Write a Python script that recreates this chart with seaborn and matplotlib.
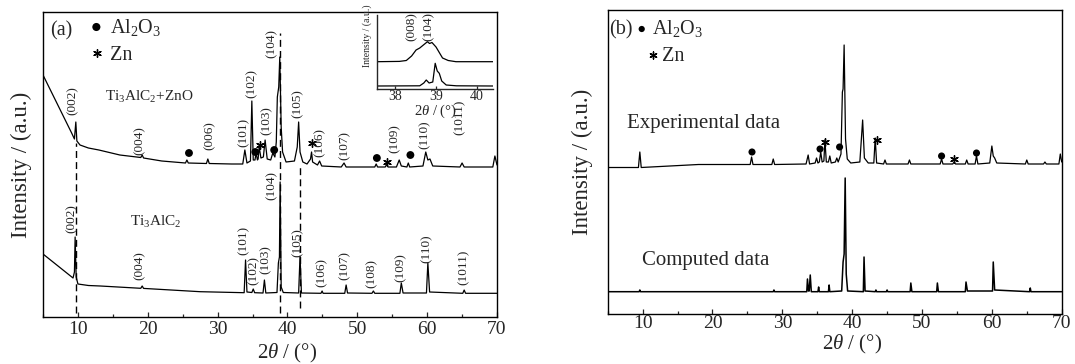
"""XRD patterns of Ti3AlC2 and Ti3AlC2+ZnO, (a) indexed and (b) experimental vs computed."""
import matplotlib
matplotlib.use('Agg')
from matplotlib import pyplot as plt
from matplotlib import ticker
import seaborn as sns

sns.set_style('ticks')
plt.rcParams['font.family'] = ['Liberation Serif', 'DejaVu Serif']
plt.rcParams['mathtext.fontset'] = 'custom'
plt.rcParams['mathtext.rm'] = 'Liberation Serif'
plt.rcParams['mathtext.it'] = 'Liberation Serif:italic'
plt.rcParams['mathtext.bf'] = 'Liberation Serif:bold'

"""
Data read off the figure (2theta in degrees, intensity in arbitrary offset units)
"""
# (a) Ti3AlC2+ZnO trace
zno_2t = [5.0, 9.1, 9.5, 9.7, 9.85, 10.3, 11.5, 13.0, 16.0, 19.0, 19.2, 19.4, 22.0,
          25.4, 25.6, 25.8, 28.4, 28.6, 28.8, 32.0, 33.6, 33.9, 34.2, 34.7, 34.9,
          35.1, 35.35, 35.5, 35.7, 35.8, 35.95, 36.2, 36.55, 36.8, 37.1, 37.6, 37.9,
          38.2, 38.4, 38.55, 38.75, 38.9, 39.1, 39.3, 39.8, 41.0, 41.4, 41.6, 41.8,
          42.2, 42.8, 43.3, 43.45, 43.6, 44.3, 44.6, 44.9, 47.7, 48.1, 48.4, 52.5,
          52.7, 52.9, 54.0, 54.2, 54.4, 55.6, 56.0, 56.3, 57.1, 57.3, 57.5, 59.4,
          59.8, 60.1, 60.4, 60.8, 64.7, 65.0, 65.3, 69.4, 69.7, 70.0]
zno_int = [242, 184, 178, 195, 176, 172, 169, 167, 162, 159.5, 162, 159, 156,
           154, 157, 154, 153.5, 158, 153.5, 153, 153, 167, 154, 156, 216,
           157, 157, 164, 157, 158, 170, 159, 160, 177, 158, 157, 164,
           160, 175, 220, 230, 260, 190, 165, 155, 156, 170, 195, 165,
           155, 153, 158, 165, 155, 152, 156, 151, 150, 154, 150, 150,
           153, 150, 150, 152.5, 150, 150, 157, 151, 150, 154, 150, 151,
           165, 157, 158, 151, 150, 154, 150, 150, 161, 152]

# (a) Ti3AlC2 trace
tac_2t = [5.0, 9.3, 9.5, 9.6, 9.75, 10.0, 11.5, 13.2, 19.0, 19.2, 19.4, 27.5, 33.8,
          34.0, 34.2, 34.9, 35.1, 35.3, 36.5, 36.7, 36.9, 38.5, 38.7, 38.85, 38.95,
          39.1, 39.4, 41.6, 41.8, 42.0, 44.8, 44.96, 45.1, 48.2, 48.4, 48.6, 52.1,
          52.3, 52.5, 56.1, 56.3, 56.55, 59.9, 60.1, 60.35, 65.1, 65.3, 65.5, 70.0]
tac_int = [63, 39, 45, 80, 40, 33, 31.5, 31, 28.7, 31, 28.6, 25.3, 24.3,
           57, 25, 24.5, 28, 24.3, 24, 37, 24, 24.5, 54, 60, 135,
           30, 24.5, 24, 61, 24, 23.7, 26, 23.7, 23.7, 32, 24, 23.7,
           26, 23.7, 23.7, 34, 24, 24, 54, 25, 23.7, 27, 23.7, 23.7]

# (a) inset, 37.5-40.5 degrees
ins_top_2t = [37.55, 38.1, 38.27, 38.4, 38.51, 38.6, 38.72, 38.79, 38.84, 38.9,
              39.0, 39.16, 39.3, 39.49, 40.4]
ins_top_int = [27.3, 27.6, 28.5, 33, 39, 41, 45, 47.3, 45.5, 46.5,
               42, 31, 28.5, 27.3, 27.3]
ins_bot_2t = [37.55, 38.6, 38.7, 38.76, 38.83, 38.92, 38.98, 39.03, 39.08, 39.14,
              39.25, 39.5, 40.4]
ins_bot_int = [3, 3.2, 6, 9, 6, 7, 25.7, 18, 15.7, 8, 4, 3.2, 3]

# (b) experimental trace
exp_2t = [5.0, 9.4, 9.6, 9.8, 18.0, 25.4, 25.6, 25.8, 28.5, 28.7, 28.9, 33.4,
          33.7, 33.9, 34.7, 34.9, 35.1, 35.3, 35.5, 35.7, 35.95, 36.1, 36.3,
          36.6, 36.8, 37.0, 37.6, 37.8, 38.0, 38.4, 38.6, 38.7, 38.85, 39.05,
          39.3, 39.8, 41.1, 41.5, 41.75, 42.3, 43.1, 43.3, 43.5, 44.5, 44.7,
          44.9, 48.0, 48.2, 48.4, 52.6, 52.8, 53.0, 54.4, 54.6, 54.8, 56.2,
          56.4, 56.6, 57.6, 57.8, 58.0, 59.7, 60.0, 60.2, 60.4, 60.7, 64.8,
          65.0, 65.2, 67.4, 67.6, 67.8, 69.6, 69.8, 70.0]
exp_int = [146.5, 146.5, 162, 146.5, 149.5, 149.5, 157, 149.5, 149.5, 155, 149.5, 150,
           159, 150, 151, 156, 151, 152, 162, 152, 153, 174, 152,
           152, 158, 151, 152, 156, 152, 160, 222, 225, 269, 175,
           155, 151, 152, 194, 156, 151, 151, 176, 151, 150, 154,
           150, 150, 154, 150, 150, 155, 150, 150, 152, 150, 150,
           154, 150, 150, 158, 150, 151, 168, 158, 156, 151, 150,
           154, 150, 150, 152, 150, 150, 160, 152]

# (b) computed trace
cal_2t = [5.0, 9.5, 9.6, 9.7, 28.7, 28.8, 28.9, 33.5, 33.6, 33.75, 33.85, 34.0,
          34.15, 35.1, 35.2, 35.3, 36.6, 36.7, 36.8, 38.5, 38.7, 38.85, 39.0,
          39.15, 39.35, 41.6, 41.7, 41.85, 43.3, 43.4, 43.5, 44.9, 45.0, 45.1,
          48.3, 48.4, 48.55, 52.1, 52.2, 52.35, 56.2, 56.3, 56.5, 60.1, 60.2,
          60.4, 65.4, 65.5, 65.6, 70.0]
cal_int = [22.3, 22.3, 24, 22.3, 22.3, 24, 22.3, 22.3, 35, 23, 23, 39,
           22.3, 22.3, 27, 22.3, 22.3, 29, 22.3, 23, 52, 60, 136,
           40, 23, 22.3, 57, 23, 22.3, 24, 22.3, 22.3, 24, 22.3,
           22.3, 31, 22.3, 22.3, 31, 22.3, 22.3, 32, 23, 23, 52,
           24, 22.3, 26, 22.3, 22.3]

# Reflection labels
a_top_hkl = ['(002)', '(004)', '(006)', '(101)', '(102)', '(103)', '(104)',
             '(105)', '(106)', '(107)', '(109)', '(110)', '(1011)']
a_top_x = [9.2, 18.9, 28.8, 33.7, 34.9, 37.0, 37.7, 41.5, 44.6, 48.2, 55.4, 59.6, 64.7]
a_top_y = [202, 162, 167, 170, 219, 182, 259, 199, 160, 157, 164, 168, 182]
a_bot_hkl = ['(002)', '(004)', '(101)', '(102)', '(103)', '(104)', '(105)',
             '(106)', '(107)', '(108)', '(109)', '(110)', '(1011)']
a_bot_x = [9.1, 18.9, 33.7, 35.1, 36.9, 37.7, 41.5, 44.9, 48.2, 52.1, 56.2, 60.0, 65.2]
a_bot_y = [84, 37, 62, 32, 43, 117, 60, 30, 37, 29, 35, 54, 32]
ins_hkl = ['(008)', '(104)']
ins_hkl_x = [38.4, 38.82]

# Phase markers
a_dot_x = [25.9, 35.4, 38.1, 52.8, 57.6]
a_dot_y = [164, 165, 167, 159, 162]
a_star_x = [36.0, 43.5, 54.3]
a_star_y = [172, 174, 155]
b_dot_x = [25.66, 35.4, 38.2, 52.8, 57.8]
b_dot_y = [162, 165, 167, 158, 161]
b_star_x = [36.1, 43.5, 54.6]
b_star_y = [172, 174, 155]

# Dashed guide lines in (a)
guide_x = [9.7, 39.0, 41.8]
guide_top = [174, 284, 150]
guide_bottom = [4, 4, 9]

STAR = (6, 2, 0)


def style_axes(ax, ylim, pad, xlabel_y):
    """Common frame: inward ticks on x only, no y ticks."""
    ax.set_xlim(5, 70)
    ax.set_ylim(*ylim)
    ax.set_yticks([])
    ax.xaxis.set_major_locator(ticker.MultipleLocator(10))
    ax.xaxis.set_minor_locator(ticker.MultipleLocator(5))
    ax.xaxis.set_major_formatter(ticker.FuncFormatter(lambda v, p: '' if v < 10 else f'{v:.0f}'))
    ax.tick_params(axis='x', which='major', direction='in', length=3.5, width=0.9,
                   labelsize=14, pad=pad)
    ax.tick_params(axis='x', which='minor', direction='in', length=2, width=0.9)
    for sp in ax.spines.values():
        sp.set_visible(True)
        sp.set_linewidth(1.0)
        sp.set_color('black')
    ax.set_xlabel(r'2$\theta$ / (°)', fontsize=15)
    ax.xaxis.set_label_coords(35 / 65, xlabel_y)
    ax.set_ylabel('Intensity / (a.u.)', fontsize=16.5)


fig = plt.figure(figsize=(10.75, 3.64), dpi=100)
ax_a = fig.add_axes([43 / 1075, 47 / 364, 454 / 1075, 305 / 364])
ax_b = fig.add_axes([607.7 / 1075, 50 / 364, 454 / 1075, 304 / 364])

# ---- (a)
sns.lineplot(x=zno_2t, y=zno_int, ax=ax_a, color='black', lw=0.9, estimator=None, sort=False)
sns.lineplot(x=tac_2t, y=tac_int, ax=ax_a, color='black', lw=0.9, estimator=None, sort=False)
ax_a.vlines(guide_x, guide_bottom, guide_top, colors='black', linestyles=(0, (5, 3)), lw=1)
sns.scatterplot(x=a_dot_x, y=a_dot_y, ax=ax_a, color='black', s=32, edgecolor='none')
sns.scatterplot(x=a_star_x, y=a_star_y, ax=ax_a, color='black', marker=STAR, s=30, linewidth=1)
for s, x, y in zip(a_top_hkl, a_top_x, a_top_y):
    ax_a.text(x, y, s, rotation=90, ha='center', va='bottom', fontsize=9.5)
for s, x, y in zip(a_bot_hkl, a_bot_x, a_bot_y):
    ax_a.text(x, y, s, rotation=90, ha='center', va='bottom', fontsize=9.5)
ax_a.text(6.07, 286, '(a)', fontsize=14.5, va='center')
ax_a.scatter([12.64], [290], color='black', s=34, edgecolor='none')
ax_a.text(14.64, 290, r'Al$_2$O$_3$', fontsize=14.5, va='center')
ax_a.scatter([12.7], [264], color='black', marker=STAR, s=30, linewidth=1)
ax_a.text(14.64, 262, 'Zn', fontsize=14.5, va='center')
ax_a.text(13.9, 220.5, r'Ti$_3$AlC$_2$+ZnO', fontsize=11, va='center')
ax_a.text(17.5, 95, r'Ti$_3$AlC$_2$', fontsize=11, va='center')
style_axes(ax_a, (0, 305), 3, -0.082)
ax_a.yaxis.set_label_coords(-0.025, 0.5)

# inset
ax_in = fig.add_axes([377 / 1075, 275 / 364, 116 / 1075, 74 / 364])
sns.lineplot(x=ins_top_2t, y=ins_top_int, ax=ax_in, color='black', lw=0.9, estimator=None, sort=False)
sns.lineplot(x=ins_bot_2t, y=ins_bot_int, ax=ax_in, color='black', lw=0.9, estimator=None, sort=False)
for s, x in zip(ins_hkl, ins_hkl_x):
    ax_in.text(x, 48, s, rotation=90, ha='center', va='bottom', fontsize=9.5)
ax_in.set_xlim(37.55, 40.4)
ax_in.set_ylim(0, 74)
ax_in.set_yticks([])
ax_in.set_xticks([38, 39, 40])
ax_in.tick_params(axis='x', direction='in', length=2.5, width=0.9, labelsize=10, pad=1)
ax_in.spines['top'].set_visible(False)
ax_in.spines['right'].set_visible(False)
ax_in.spines['left'].set_linewidth(1.0)
ax_in.spines['bottom'].set_linewidth(1.0)
ax_in.patch.set_alpha(0)
ax_in.set_xlabel(r'2$\theta$ / (°)', fontsize=10.5, labelpad=-0.5)
fig.text(367 / 1075, 1 - 36 / 364, 'Intensity / (a.u.)', rotation=90, fontsize=7,
         ha='center', va='center')

# ---- (b)
sns.lineplot(x=exp_2t, y=exp_int, ax=ax_b, color='black', lw=0.9, estimator=None, sort=False)
sns.lineplot(x=cal_2t, y=cal_int, ax=ax_b, color='black', lw=1.1, estimator=None, sort=False)
sns.scatterplot(x=b_dot_x, y=b_dot_y, ax=ax_b, color='black', s=26, edgecolor='none')
sns.scatterplot(x=b_star_x, y=b_star_y, ax=ax_b, color='black', marker=STAR, s=30, linewidth=1)
ax_b.text(5.2, 284, '(b)', fontsize=14.5, va='center')
ax_b.scatter([9.87], [285], color='black', s=20, edgecolor='none')
ax_b.text(11.36, 285, r'Al$_2$O$_3$', fontsize=14.5, va='center')
ax_b.scatter([11.53], [259], color='black', marker=STAR, s=26, linewidth=1)
ax_b.text(12.73, 257, 'Zn', fontsize=14.5, va='center')
ax_b.text(7.76, 190, 'Experimental data', fontsize=15, va='center')
ax_b.text(9.87, 54, 'Computed data', fontsize=15, va='center')
style_axes(ax_b, (0, 304), 0.5, -0.064)
ax_b.yaxis.set_label_coords(-0.032, 0.5)

fig.savefig('out.png', dpi=100)
